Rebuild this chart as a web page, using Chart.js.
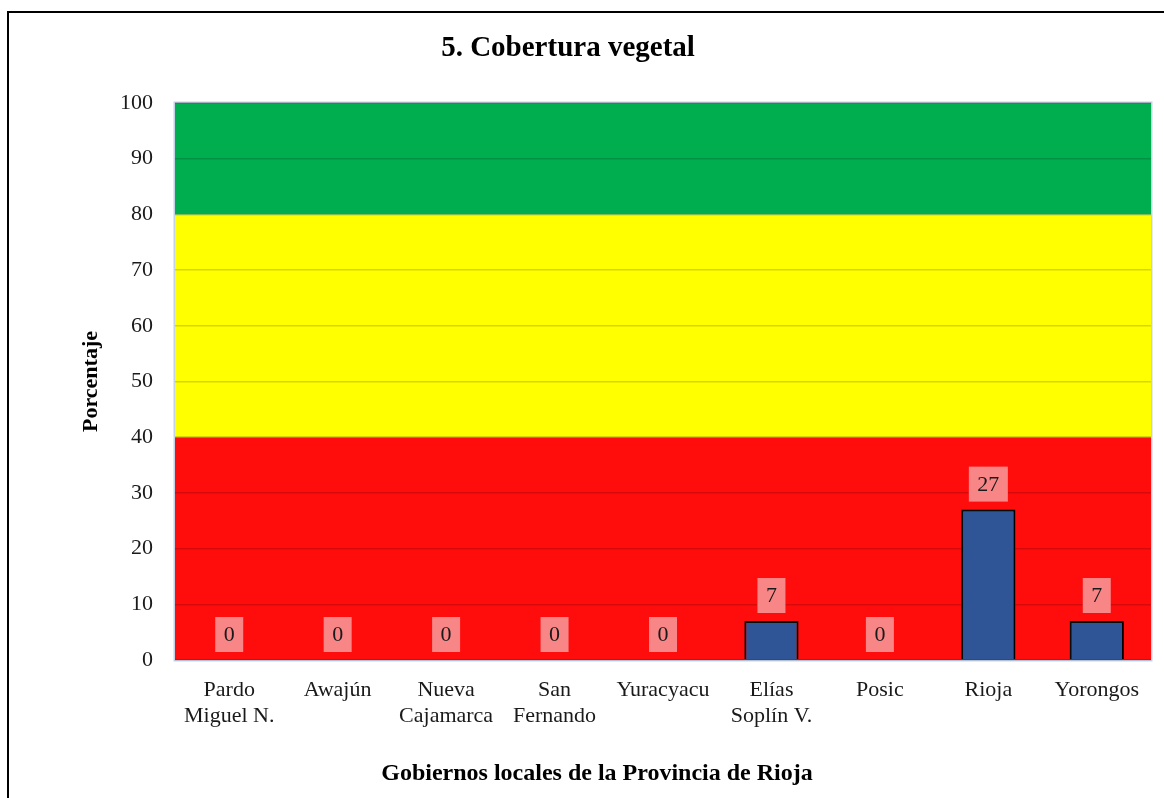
<!DOCTYPE html>
<html>
<head>
<meta charset="utf-8">
<script src="https://cdn.jsdelivr.net/npm/chart.js@4.4.1/dist/chart.umd.min.js"></script>
<style>
  html, body { margin: 0; padding: 0; background: #ffffff; }
  #frame { position: absolute; left: 7px; top: 11px; width: 1200px; height: 900px; border: 2px solid #000; box-sizing: border-box; }
  #wrap { position: absolute; left: 0; top: 0; width: 1164px; height: 798px; overflow: hidden; }
  canvas { position: absolute; left: 0; top: 0; }
</style>
</head>
<body>
<div id="wrap"><div id="frame"></div><canvas id="c" width="1164" height="798"></canvas></div>
<script>
const categories = [["Pardo","Miguel N."],"Awajún",["Nueva","Cajamarca"],["San","Fernando"],"Yuracyacu",["Elías","Soplín V."],"Posic","Rioja","Yorongos"];
const values = [0, 0, 0, 0, 0, 7, 0, 27, 7];
const yTicks = [0, 10, 20, 30, 40, 50, 60, 70, 80, 90, 100];
const bandLimits = [0, 40, 80, 100];
const bandColors = ["#ff0c0c", "#ffff00", "#00ae4f"];
const chartTitle = '5. Cobertura vegetal';
const xTitle = 'Gobiernos locales de la Provincia de Rioja';
const yTitle = 'Porcentaje';

const SERIF = "'Liberation Serif', 'Times New Roman', serif";

const bandsPlugin = {
  id: 'bands',
  beforeDraw(chart) {
    const {ctx, chartArea} = chart;
    const y = chart.scales.y;
    ctx.save();
    for (let i = 0; i < bandColors.length; i++) {
      const top = y.getPixelForValue(bandLimits[i + 1]);
      const bot = y.getPixelForValue(bandLimits[i]);
      ctx.fillStyle = bandColors[i];
      ctx.fillRect(chartArea.left, top, chartArea.right - chartArea.left, bot - top);
    }
    ctx.strokeStyle = 'rgba(190,205,230,0.9)';
    ctx.lineWidth = 1.5;
    ctx.strokeRect(chartArea.left - 0.75, chartArea.top - 0.75, chartArea.right - chartArea.left + 1.5, chartArea.bottom - chartArea.top + 1.5);
    ctx.restore();
  }
};

const textPlugin = {
  id: 'texts',
  afterDraw(chart) {
    const {ctx} = chart;
    ctx.save();
    ctx.fillStyle = '#000';
    ctx.textAlign = 'center';
    ctx.textBaseline = 'middle';
    ctx.font = "bold 29px " + SERIF;
    ctx.fillText(chartTitle, 568, 49);
    ctx.font = "bold 24px " + SERIF;
    ctx.fillText(xTitle, 597, 774);
    ctx.restore();
  }
};

const labelPlugin = {
  id: 'valueLabels',
  afterDatasetsDraw(chart) {
    const {ctx} = chart;
    const meta = chart.getDatasetMeta(0);
    ctx.save();
    ctx.font = "22px " + SERIF;
    ctx.textAlign = 'center';
    ctx.textBaseline = 'middle';
    meta.data.forEach((bar, i) => {
      const txt = String(values[i]);
      const w = ctx.measureText(txt).width + 17;
      const h = 35;
      const cx = bar.x;
      const cy = bar.y - 8 - h / 2;
      ctx.fillStyle = '#f98686';
      ctx.fillRect(cx - w / 2, cy - h / 2, w, h);
      ctx.fillStyle = '#1a1a1a';
      ctx.fillText(txt, cx, cy + 1);
    });
    ctx.restore();
  }
};

new Chart(document.getElementById('c'), {
  type: 'bar',
  data: {
    labels: categories,
    datasets: [{
      data: values,
      backgroundColor: '#2f5597',
      borderColor: '#000000',
      borderWidth: 2,
      borderSkipped: 'bottom',
      barPercentage: 0.5,
      categoryPercentage: 1.0
    }]
  },
  options: {
    responsive: false,
    animation: false,
    layout: { padding: { left: 70, right: 13, top: 103, bottom: 0 } },
    plugins: {
      legend: { display: false },
      tooltip: { enabled: false },
      title: { display: false }
    },
    scales: {
      x: {
        grid: { display: false, drawTicks: false },
        border: { display: false },
        ticks: {
          color: '#1a1a1a',
          font: { family: SERIF, size: 22 },
          padding: 17,
          maxRotation: 0,
          autoSkip: false
        },
        title: { display: false },
        afterFit(scale) { scale.height = 138; }
      },
      y: {
        min: 0,
        max: 100,
        afterBuildTicks(scale) { scale.ticks = yTicks.map(v => ({ value: v })); },
        grid: { color: 'rgba(0,0,0,0.16)', lineWidth: 1.5, drawTicks: false },
        border: { display: false },
        ticks: {
          color: '#1a1a1a',
          font: { family: SERIF, size: 22 },
          padding: 22
        },
        title: {
          display: true,
          text: yTitle,
          color: '#000',
          font: { family: SERIF, size: 22, weight: 'bold' },
          padding: { top: 8, bottom: 0 }
        },
        afterFit(scale) { scale.width = 105; }
      }
    }
  },
  plugins: [bandsPlugin, labelPlugin, textPlugin]
});
</script>
</body>
</html>
